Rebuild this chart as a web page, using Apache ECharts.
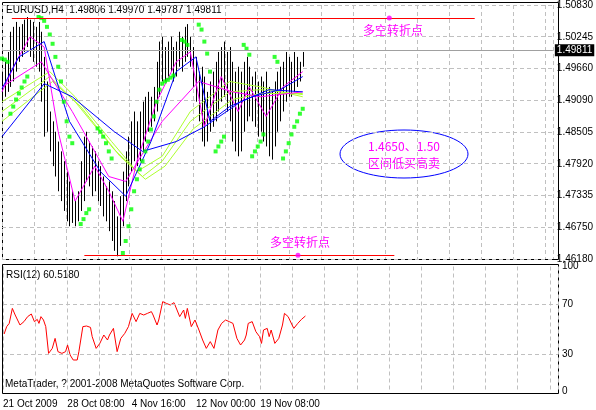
<!DOCTYPE html>
<html>
<head>
<meta charset="utf-8">
<script src="https://cdn.jsdelivr.net/npm/echarts@6/dist/echarts.min.js"></script>
<style>html,body{margin:0;padding:0;background:#fff}#main{width:596px;height:410px}</style>
</head>
<body>
<div id="main"></div>
<script>
// H4 bars, x = bar number
var highs = [
  1.4961,1.4979,1.4997,1.5034,1.5043,1.5052,1.5043,1.5048,1.5056,1.5061,
  1.5056,1.5052,1.5043,1.5052,1.5034,1.4988,1.4943,1.4888,1.4870,1.4851,
  1.4833,1.4815,1.4797,1.4778,1.4760,1.4742,1.4724,1.4742,1.4797,1.4842,
  1.4851,1.4833,1.4824,1.4815,1.4797,1.4788,1.4769,1.4751,1.4760,1.4742,
  1.4724,1.4696,1.4733,1.4778,1.4815,1.4842,1.4870,1.4888,1.4870,1.4888,
  1.4906,1.4915,1.4924,1.4915,1.4933,1.4979,1.5016,1.5025,1.5006,1.5016,
  1.5025,1.5006,1.5016,1.5034,1.5025,1.5043,1.5048,1.5025,1.5006,1.4988,
  1.4961,1.4970,1.4952,1.4924,1.4943,1.4961,1.4979,1.4997,1.5006,1.5016,
  1.4997,1.5006,1.4979,1.4961,1.4970,1.4961,1.4979,1.4988,1.4970,1.4952,
  1.4961,1.4943,1.4952,1.4943,1.4961,1.4933,1.4924,1.4943,1.4961,1.4970,
  1.4979,1.4997,1.4988,1.4979,1.4997,1.4988,1.4979,1.4997
];
var lows = [
  1.4906,1.4915,1.4924,1.4933,1.4943,1.4961,1.4979,1.4988,1.4997,1.5006,
  1.4988,1.4979,1.4970,1.4961,1.4906,1.4842,1.4851,1.4815,1.4788,1.4769,
  1.4742,1.4724,1.4706,1.4687,1.4678,1.4684,1.4678,1.4687,1.4706,1.4724,
  1.4760,1.4751,1.4733,1.4742,1.4724,1.4715,1.4696,1.4687,1.4669,1.4651,
  1.4633,1.4623,1.4642,1.4678,1.4724,1.4751,1.4778,1.4797,1.4788,1.4797,
  1.4815,1.4833,1.4851,1.4860,1.4870,1.4888,1.4915,1.4943,1.4943,1.4952,
  1.4961,1.4943,1.4952,1.4970,1.4961,1.4979,1.4988,1.4970,1.4933,1.4906,
  1.4870,1.4833,1.4824,1.4833,1.4851,1.4860,1.4870,1.4888,1.4906,1.4915,
  1.4888,1.4870,1.4833,1.4815,1.4806,1.4815,1.4851,1.4870,1.4879,1.4870,
  1.4860,1.4842,1.4851,1.4833,1.4824,1.4806,1.4800,1.4824,1.4851,1.4870,
  1.4888,1.4906,1.4915,1.4915,1.4924,1.4933,1.4943,1.4970
];

// moving averages, [bar, price]
var blueFast = [[0,1.4930],[6,1.4988],[15,1.5016],[24,1.4870],[35,1.4778],[44,1.4733],[53,1.4833],[62,1.4961],[69,1.4988],[74,1.4870],[81,1.4897],[89,1.4915],[99,1.4928],[107,1.4952]];
var blueSlow = [[0,1.4842],[15,1.4939],[25,1.4915],[40,1.4851],[50,1.4815],[62,1.4833],[72,1.4860],[85,1.4906],[95,1.4928],[107,1.4924]];
var magFast = [[0,1.4924],[5,1.4979],[10,1.5025],[15,1.5006],[20,1.4851],[26,1.4724],[33,1.4788],[38,1.4742],[43,1.4687],[48,1.4797],[55,1.4906],[62,1.4979],[67,1.4997],[72,1.4860],[78,1.4952],[84,1.4888],[88,1.4933],[94,1.4879],[100,1.4933],[107,1.4961]];
var magMid = [[0,1.4933],[14,1.4979],[25,1.4888],[38,1.4769],[44,1.4760],[57,1.4870],[70,1.4943],[82,1.4924],[92,1.4915],[107,1.4924]];
var ygA = [[0,1.4906],[17,1.4961],[26,1.4915],[39,1.4833],[48,1.4778],[57,1.4806],[67,1.4888],[81,1.4943],[92,1.4933],[107,1.4915]];
var ygB = [[0,1.4888],[17,1.4952],[26,1.4906],[40,1.4818],[50,1.4769],[57,1.4797],[67,1.4870],[81,1.4924],[92,1.4928],[107,1.4919]];
var ygC = [[0,1.4870],[18,1.4943],[28,1.4897],[42,1.4806],[51,1.4764],[58,1.4788],[68,1.4856],[82,1.4910],[92,1.4921],[107,1.4921]];

// parabolic SAR dots
var sar = [
  [0,1.4985],[1,1.4983],[2,1.4979],
  [3,1.4884],[4,1.4897],[5,1.4910],[6,1.4921],[7,1.4932],[8,1.4943],[9,1.4952],
  [13,1.5061],[14,1.5059],[15,1.5054],[16,1.5043],[17,1.5029],[18,1.5012],[19,1.4988],[20,1.4970],[21,1.4943],[22,1.4906],[23,1.4870],[24,1.4842],[25,1.4830],
  [28,1.4682],[29,1.4691],[30,1.4702],[31,1.4709],
  [34,1.4857],[35,1.4851],[36,1.4842],[37,1.4830],[38,1.4815],[39,1.4802],
  [43,1.4629],[44,1.4651],[45,1.4678],[46,1.4709],[47,1.4742],[48,1.4764],[49,1.4782],[50,1.4797],[51,1.4815],[52,1.4833],[53,1.4855],[54,1.4879],[55,1.4906],[56,1.4928],[57,1.4939],[58,1.4943],[59,1.4946],[60,1.4950],[61,1.4954],
  [64,1.5019],[65,1.5016],[66,1.5010],
  [70,1.5047],[71,1.5038],[72,1.5016],[73,1.4994],[74,1.4961],
  [76,1.4815],[77,1.4824],[78,1.4833],[79,1.4842],
  [86,1.5010],[87,1.5003],[88,1.4992],
  [89,1.4806],[90,1.4815],[91,1.4824],[92,1.4833],[93,1.4846],
  [97,1.4988],[98,1.4979],
  [100,1.4802],[101,1.4815],[102,1.4830],[103,1.4846],[104,1.4860],[105,1.4870],[106,1.4884],[107,1.4893]
];

var rsi = [
  [0.4,46],[1.3,51.9],[2.2,54.5],[3.3,66.5],[4.3,61.2],[4.9,62.5],[6,53.2],[7.4,55.9],[8.7,59.9],[10,62],
  [11.1,55.9],[12.1,57.7],[12.7,54.5],[13.4,59.9],[14.3,57.2],[15.1,51.9],[16.1,30.5],[17.4,34.5],[18.4,42.5],[19.4,31.9],
  [20.8,30.5],[22.1,31.9],[22.8,37.2],[23.7,29.2],[24.8,25.2],[26.2,25.2],[26.8,31.9],[28.2,51.9],[29.5,52.4],[30.9,51.3],
  [31.5,43.9],[32.9,34.5],[34.2,38.5],[35.6,45.2],[36.9,41.2],[37.6,45.2],[39,50.5],[40.3,31.9],[41.6,42.5],[43,46.5],
  [44.3,51.9],[45.6,62.5],[47,55.9],[48.3,62.5],[49.7,61.2],[51,62.5],[52.4,63.9],[53,61.2],[54.4,53.2],[55,57.2],
  [56.4,71.9],[57.7,70.5],[59.1,69.2],[60.4,71.1],[61.1,70.5],[62.4,59.9],[63.8,65.2],[64.4,58.5],[65.1,66.5],[66.5,51.9],
  [67.8,57.2],[69.2,49.2],[70.5,41.2],[71.8,34.5],[73.2,39.9],[74.5,34.5],[75.9,49.2],[77.2,54.5],[78.6,57.2],[79.9,55.9],
  [81.2,54.5],[82.6,42.5],[83.9,37.2],[85.3,41.2],[85.9,45.2],[86.6,54.5],[88,55.9],[88.6,57.2],[89.3,47.9],[90.6,43.9],
  [91.3,38.5],[92,49.2],[93.3,50.5],[94,43.9],[94.7,49.2],[96,38.5],[97.4,42.5],[98.7,53.2],[99.4,62.5],[100.7,59.9],
  [102.1,53.2],[102.7,50.5],[104.1,54.5],[105.4,57.7],[106.8,60.4]
];

var priceTicks = ['1.46180','1.46750','1.47335','1.47920','1.48505','1.49090','1.49660','1.50245','1.50830'];
var timeLabels = ['21 Oct 2009','28 Oct 08:00','4 Nov 16:00','12 Nov 00:00','19 Nov 08:00'];
var rsiTicks = [0, 30, 70, 100];
var lastPrice = 1.49811;
var pivotHigh = 1.5059, pivotLow = 1.4625;

var pMin = 1.4618, pStep = 0.0058125;
var xStep = 11.36;
var font = '"Liberation Sans", Arial, sans-serif';
var fsz = 10;

var bars = highs.map(function (h, i) { return [i, h, lows[i]]; });

var chart = echarts.init(document.getElementById('main'));

function xAxisCfg(idx, showLabel) {
  return {
    type: 'value', gridIndex: idx, min: 0, max: 196, interval: xStep,
    axisLine: {show: false}, axisTick: {show: false},
    splitLine: {show: true, lineStyle: {color: '#c0c0c0', type: [4, 3]}},
    axisLabel: {
      show: showLabel, align: 'left', color: '#000', fontFamily: font, fontSize: fsz, margin: 8,
      formatter: function (v) {
        var k = Math.round(v / xStep);
        return (k % 2 === 0 && timeLabels[k / 2]) ? timeLabels[k / 2] : '';
      }
    }
  };
}

function maLine(data, color) {
  return {type: 'line', data: data, symbol: 'none', silent: true,
    lineStyle: {color: color, width: 1}, xAxisIndex: 0, yAxisIndex: 0, z: 3};
}

var option = {
  animation: false,
  backgroundColor: '#fff',
  grid: [
    {left: 2, right: 38, top: 3, height: 256},
    {left: 2, right: 38, top: 266.5, height: 125}
  ],
  xAxis: [xAxisCfg(0, false), xAxisCfg(1, true)],
  yAxis: [
    {
      type: 'value', gridIndex: 0, position: 'right', min: pMin, max: pMin + pStep * 8, interval: pStep,
      axisLine: {show: false}, axisTick: {show: false},
      splitLine: {show: true, lineStyle: {color: '#c0c0c0', type: [4, 3]}},
      axisLabel: {color: '#000', fontFamily: font, fontSize: fsz, margin: 4,
        formatter: function (v) { return priceTicks[Math.round((v - pMin) / pStep)] || ''; }}
    },
    {
      type: 'value', gridIndex: 1, position: 'right', min: 0, max: 100, interval: 10,
      axisLine: {show: false}, axisTick: {show: false}, splitLine: {show: false},
      axisLabel: {color: '#000', fontFamily: font, fontSize: fsz, margin: 4,
        formatter: function (v) { return rsiTicks.indexOf(v) >= 0 ? String(v) : ''; }}
    }
  ],
  series: [
    maLine(ygC, '#adff2f'),
    maLine(ygB, '#adff2f'),
    maLine(ygA, '#adff2f'),
    maLine(magMid, '#ff00ff'),
    maLine(magFast, '#ff00ff'),
    maLine(blueSlow, '#0000ff'),
    maLine(blueFast, '#0000ff'),
    {
      type: 'custom', data: bars, xAxisIndex: 0, yAxisIndex: 0, z: 2, silent: true,
      renderItem: function (params, api) {
        var top = api.coord([api.value(0), api.value(1)]);
        var bot = api.coord([api.value(0), api.value(2)]);
        var x = Math.round(top[0]) + 0.5;
        return {type: 'line', shape: {x1: x, y1: top[1], x2: x, y2: bot[1]},
          style: {stroke: '#000', lineWidth: 1}};
      },
      markLine: {
        symbol: 'none', silent: true,
        data: [
          {yAxis: lastPrice, lineStyle: {color: '#a0a0a0', type: 'solid', width: 1},
            label: {show: true, position: 'end', formatter: '1.49811', color: '#fff', backgroundColor: '#000',
              fontFamily: font, fontSize: fsz, padding: [1, 2], distance: 2}},
          [{coord: [3.5, pivotHigh]}, {coord: [168.2, pivotHigh]}],
          [{coord: [29.3, pivotLow]}, {coord: [139.6, pivotLow]}]
        ],
        lineStyle: {color: '#ff0000', type: 'solid', width: 1},
        label: {show: false}
      }
    },
    {
      type: 'scatter', data: sar, xAxisIndex: 0, yAxisIndex: 0, symbol: 'rect', symbolSize: 4,
      itemStyle: {color: '#00ff00'}, z: 4, silent: true
    },
    {
      type: 'scatter', data: [[137.8, pivotHigh], [105.3, pivotLow]], xAxisIndex: 0, yAxisIndex: 0,
      symbol: 'circle', symbolSize: 5, itemStyle: {color: '#ff00ff'}, z: 5, silent: true
    },
    {
      type: 'line', data: rsi, xAxisIndex: 1, yAxisIndex: 1, symbol: 'none', silent: true,
      lineStyle: {color: '#ff0000', width: 1},
      markLine: {
        symbol: 'none', silent: true, label: {show: false},
        lineStyle: {color: '#c0c0c0', type: [4, 3], width: 1},
        data: [{yAxis: 30}, {yAxis: 70}]
      }
    }
  ],
  graphic: [
    {type: 'rect', shape: {x: 2.5, y: 2.5, width: 556, height: 257}, style: {fill: null, stroke: '#000', lineWidth: 1}, silent: true},
    {type: 'rect', shape: {x: 2.5, y: 264.5, width: 556, height: 129}, style: {fill: null, stroke: '#000', lineWidth: 1}, silent: true},
    {type: 'text', left: 6, top: 5, style: {text: 'EURUSD,H4  1.49806 1.49970 1.49787 1.49811', fill: '#000', font: fsz + 'px ' + font}},
    {type: 'text', left: 6, top: 270, style: {text: 'RSI(12) 60.5180', fill: '#000', font: fsz + 'px ' + font}},
    {type: 'text', left: 5, top: 379, style: {text: 'MetaTrader, ? 2001-2008 MetaQuotes Software Corp.', fill: '#000', font: fsz + 'px ' + font}},
    {type: 'text', x: 393, y: 30, style: {text: '多空转折点', fill: '#ff00ff', font: '12px "Noto Sans CJK SC"', align: 'center', verticalAlign: 'middle'}},
    {type: 'text', x: 300, y: 242, style: {text: '多空转折点', fill: '#ff00ff', font: '12px "Noto Sans CJK SC"', align: 'center', verticalAlign: 'middle'}},
    {type: 'ellipse', shape: {cx: 404, cy: 154, rx: 64, ry: 24}, style: {fill: null, stroke: '#0000ff', lineWidth: 1}, silent: true},
    {type: 'text', x: 404, y: 146, style: {text: '1.4650、1.50', fill: '#ff00ff', font: '12px "Noto Sans CJK SC"', align: 'center', verticalAlign: 'middle'}},
    {type: 'text', x: 404, y: 163, style: {text: '区间低买高卖', fill: '#ff00ff', font: '12px "Noto Sans CJK SC"', align: 'center', verticalAlign: 'middle'}}
  ]
};

chart.setOption(option);
</script>
</body>
</html>
